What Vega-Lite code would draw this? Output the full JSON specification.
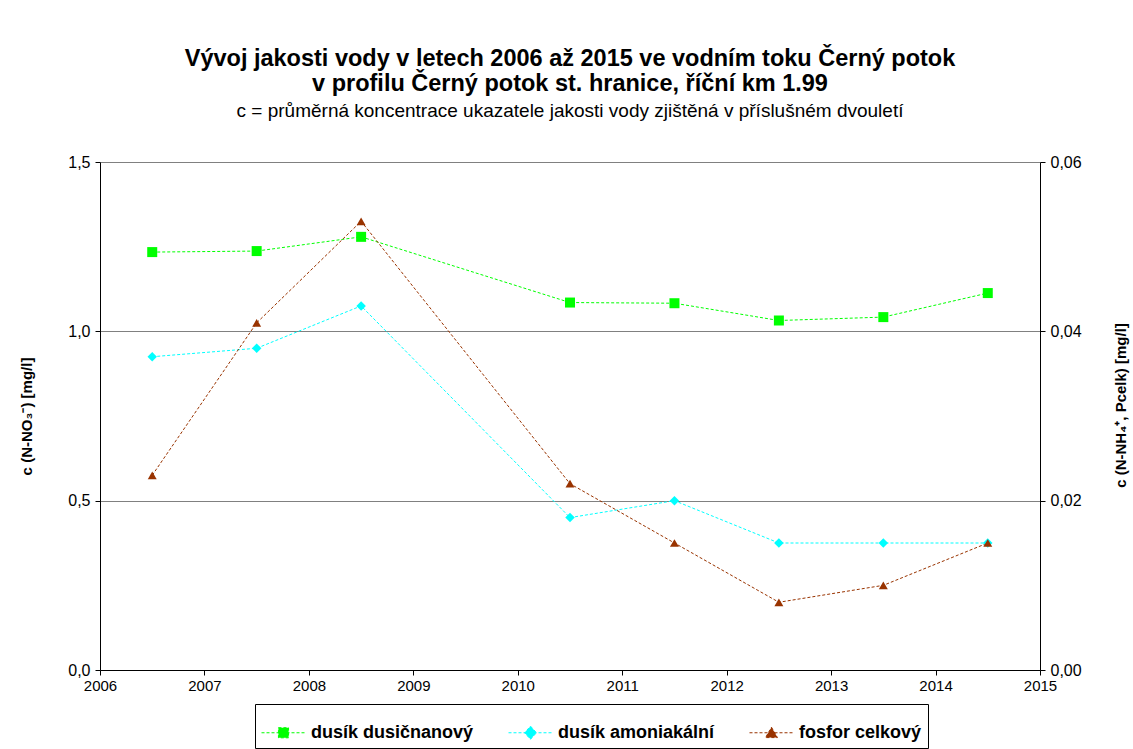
{
  "$schema": "https://vega.github.io/schema/vega-lite/v6.json",
  "width": 940,
  "height": 508,
  "autosize": "none",
  "padding": {"left": 100, "top": 162, "right": 93, "bottom": 79},
  "background": "white",
  "title": {
    "text": ["Vývoj jakosti vody v letech 2006 až 2015 ve vodním toku Černý potok", "v profilu Černý potok st. hranice, říční km 1.99"],
    "subtitle": "c = průměrná koncentrace ukazatele jakosti vody zjištěná v příslušném dvouletí",
    "font": "Liberation Sans",
    "fontSize": 23.5,
    "fontWeight": "bold",
    "color": "black",
    "lineHeight": 25,
    "subtitleFont": "Liberation Sans",
    "subtitleFontSize": 19,
    "subtitleColor": "black",
    "subtitlePadding": 7,
    "anchor": "middle",
    "offset": 33
  },
  "data": {
    "values": [
      {"year": 2006.5, "series": "dusík dusičnanový", "value": 1.234},
      {"year": 2007.5, "series": "dusík dusičnanový", "value": 1.237},
      {"year": 2008.5, "series": "dusík dusičnanový", "value": 1.279},
      {"year": 2010.5, "series": "dusík dusičnanový", "value": 1.085},
      {"year": 2011.5, "series": "dusík dusičnanový", "value": 1.083},
      {"year": 2012.5, "series": "dusík dusičnanový", "value": 1.032},
      {"year": 2013.5, "series": "dusík dusičnanový", "value": 1.042},
      {"year": 2014.5, "series": "dusík dusičnanový", "value": 1.113},
      {"year": 2006.5, "series": "dusík amoniakální", "value": 0.037},
      {"year": 2007.5, "series": "dusík amoniakální", "value": 0.038},
      {"year": 2008.5, "series": "dusík amoniakální", "value": 0.043},
      {"year": 2010.5, "series": "dusík amoniakální", "value": 0.018},
      {"year": 2011.5, "series": "dusík amoniakální", "value": 0.020},
      {"year": 2012.5, "series": "dusík amoniakální", "value": 0.015},
      {"year": 2013.5, "series": "dusík amoniakální", "value": 0.015},
      {"year": 2014.5, "series": "dusík amoniakální", "value": 0.015},
      {"year": 2006.5, "series": "fosfor celkový", "value": 0.023},
      {"year": 2007.5, "series": "fosfor celkový", "value": 0.041},
      {"year": 2008.5, "series": "fosfor celkový", "value": 0.053},
      {"year": 2010.5, "series": "fosfor celkový", "value": 0.022},
      {"year": 2011.5, "series": "fosfor celkový", "value": 0.015},
      {"year": 2012.5, "series": "fosfor celkový", "value": 0.008},
      {"year": 2013.5, "series": "fosfor celkový", "value": 0.010},
      {"year": 2014.5, "series": "fosfor celkový", "value": 0.015}
    ]
  },
  "encoding": {
    "x": {
      "field": "year",
      "type": "quantitative",
      "scale": {"domain": [2006, 2015], "nice": false, "zero": false},
      "axis": {
        "values": [2006, 2007, 2008, 2009, 2010, 2011, 2012, 2013, 2014, 2015],
        "format": "d",
        "title": null,
        "grid": false,
        "tickSize": 5,
        "tickColor": "black",
        "domainColor": "black",
        "labelFontSize": 15,
        "labelColor": "black",
        "labelPadding": 3,
        "labelFlush": false
      }
    }
  },
  "layer": [
    {
      "mark": {"type": "point", "filled": true, "opacity": 0},
      "encoding": {
        "color": {
          "field": "series",
          "type": "nominal",
          "scale": {"domain": ["dusík dusičnanový", "dusík amoniakální", "fosfor celkový"], "range": ["#00FF00", "#00FFFF", "#993300"]},
          "legend": {
            "title": null,
            "orient": "none",
            "legendX": 155,
            "legendY": 542,
            "direction": "horizontal",
            "strokeColor": "black",
            "padding": 6,
            "symbolSize": 1936,
            "symbolStrokeWidth": 1,
            "labelFontSize": 18,
            "labelFontWeight": "bold",
            "labelColor": "black",
            "labelOffset": 5,
            "columnPadding": 32,
            "labelLimit": 300,
            "encode": {
              "symbols": {"update": {"stroke": {"scale": "color", "field": "value"}, "strokeDash": {"value": [3, 2]}, "strokeWidth": {"value": 1}, "opacity": {"value": 1}}}
            }
          }
        },
        "shape": {
          "field": "series",
          "type": "nominal",
          "scale": {
            "domain": ["dusík dusičnanový", "dusík amoniakální", "fosfor celkový"],
            "range": [
              "M-1,0H1M-0.23,-0.23H0.23V0.23H-0.23Z",
              "M-1,0H1M0,-0.3L0.27,0L0,0.3L-0.27,0Z",
              "M-1,0H1M0,-0.25L0.27,0.22H-0.27Z"
            ]
          },
          "legend": {
            "title": null,
            "orient": "none",
            "legendX": 155,
            "legendY": 542,
            "direction": "horizontal",
            "strokeColor": "black",
            "padding": 6,
            "symbolSize": 1936,
            "symbolStrokeWidth": 1,
            "labelFontSize": 18,
            "labelFontWeight": "bold",
            "labelColor": "black",
            "labelOffset": 5,
            "columnPadding": 32,
            "labelLimit": 300,
            "encode": {
              "symbols": {"update": {"stroke": {"scale": "color", "field": "value"}, "strokeDash": {"value": [3, 2]}, "strokeWidth": {"value": 1}, "opacity": {"value": 1}}}
            }
          }
        }
      }
    },
    {
      "transform": [{"filter": "datum.series == 'dusík dusičnanový'"}],
      "encoding": {
        "y": {
          "field": "value",
          "type": "quantitative",
          "scale": {"domain": [0, 1.5], "nice": false},
          "axis": {
            "orient": "left",
            "values": [0, 0.5, 1, 1.5],
            "labelExpr": "replace(format(datum.value, '.1f'), '.', ',')",
            "grid": true,
            "gridColor": "#808080",
            "gridWidth": 1,
            "domainColor": "black",
            "tickColor": "black",
            "tickSize": 5,
            "labelFontSize": 16,
            "labelColor": "black",
            "labelPadding": 5,
            "title": "c (N-NO₃⁻) [mg/l]",
            "titleFontSize": 15,
            "titleFontWeight": "bold",
            "titleColor": "black",
            "titleX": -74,
            "titleY": 254,
            "titleAngle": -90,
            "titleAlign": "center",
            "titleBaseline": "middle"
          }
        }
      },
      "layer": [
        {
          "mark": {"type": "line", "strokeWidth": 1, "strokeDash": [3, 2]},
          "encoding": {
            "color": {"field": "series", "type": "nominal", "legend": null}
          }
        },
        {
          "mark": {"type": "point", "filled": true, "shape": "square", "size": 100, "opacity": 1},
          "encoding": {
            "color": {"field": "series", "type": "nominal", "legend": null}
          }
        }
      ]
    },
    {
      "transform": [{"filter": "datum.series != 'dusík dusičnanový'"}],
      "encoding": {
        "y": {
          "field": "value",
          "type": "quantitative",
          "scale": {"domain": [0, 0.06], "nice": false},
          "axis": {
            "orient": "right",
            "values": [0, 0.02, 0.04, 0.06],
            "labelExpr": "replace(format(datum.value, '.2f'), '.', ',')",
            "grid": false,
            "domainColor": "black",
            "tickColor": "black",
            "tickSize": 5,
            "labelFontSize": 16,
            "labelColor": "black",
            "labelPadding": 5,
            "title": "c (N-NH₄⁺, Pcelk) [mg/l]",
            "titleFontSize": 15,
            "titleFontWeight": "bold",
            "titleColor": "black",
            "titleX": 80,
            "titleY": 243,
            "titleAngle": -90,
            "titleAlign": "center",
            "titleBaseline": "middle"
          }
        }
      },
      "layer": [
        {
          "mark": {"type": "line", "strokeWidth": 1, "strokeDash": [3, 2]},
          "encoding": {
            "color": {"field": "series", "type": "nominal", "legend": null}
          }
        },
        {
          "transform": [{"filter": "datum.series == 'dusík amoniakální'"}],
          "mark": {"type": "point", "filled": true, "shape": "diamond", "size": 90, "opacity": 1},
          "encoding": {
            "color": {"field": "series", "type": "nominal", "legend": null}
          }
        },
        {
          "transform": [{"filter": "datum.series == 'fosfor celkový'"}],
          "mark": {"type": "point", "filled": true, "shape": "triangle-up", "size": 80, "opacity": 1},
          "encoding": {
            "color": {"field": "series", "type": "nominal", "legend": null}
          }
        }
      ]
    }
  ],
  "resolve": {"scale": {"y": "independent"}},
  "config": {
    "view": {"stroke": null},
    "font": "Liberation Sans",
    "axis": {"labelFont": "Liberation Sans", "titleFont": "Liberation Sans"},
    "legend": {"labelFont": "Liberation Sans"}
  }
}
